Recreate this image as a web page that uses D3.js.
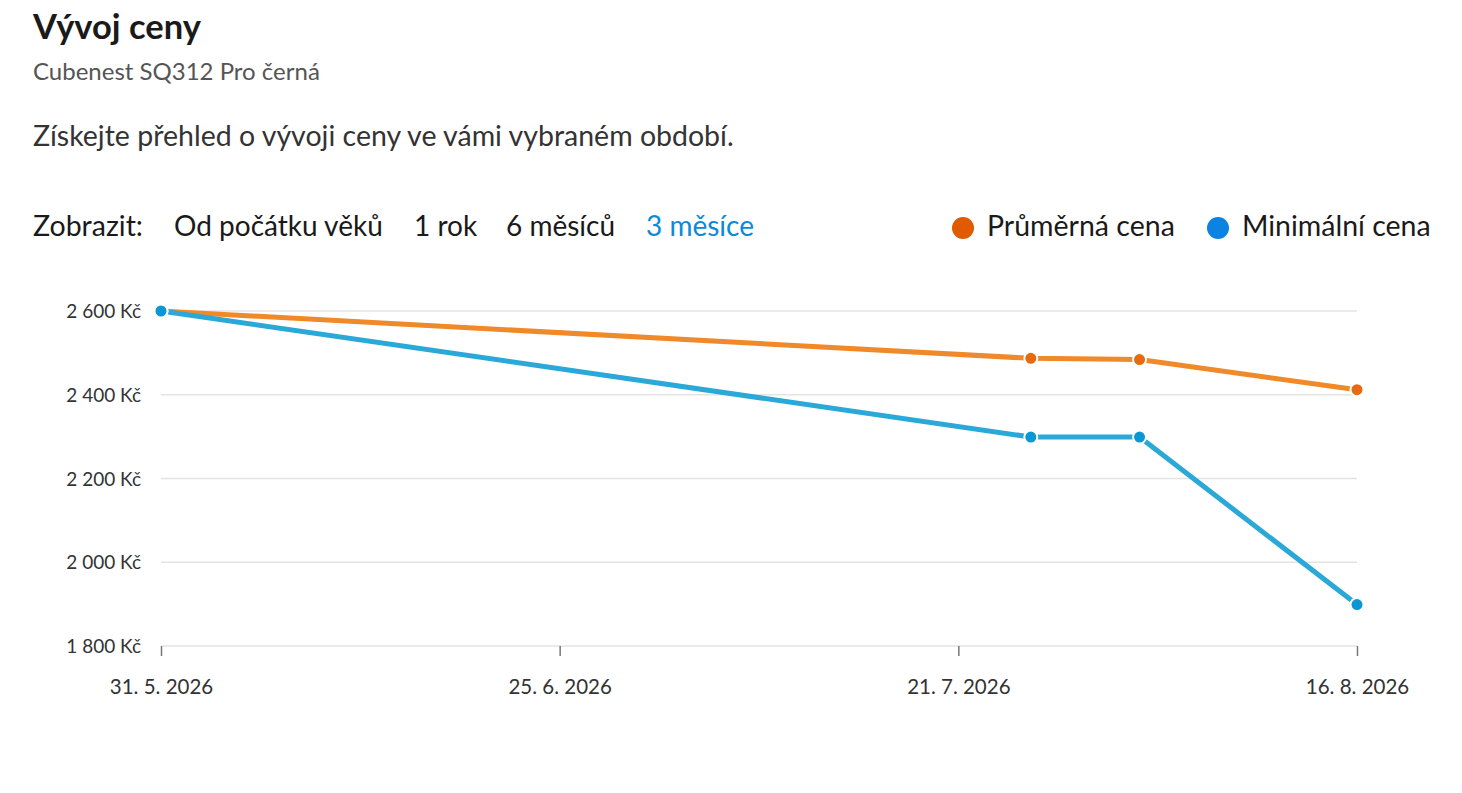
<!DOCTYPE html>
<html lang="cs">
<head>
<meta charset="utf-8">
<script src="https://cdn.jsdelivr.net/npm/d3@7"></script>
<style>
    body { margin: 0; background: #fff; font-family: Lato, "Noto Sans", sans-serif; }
    svg text { font-family: Lato, "Noto Sans", sans-serif; }
</style>
</head>
<body>
<div id="chart"></div>
<script>
// data
const dates = ["2026-05-31", "2026-07-26", "2026-08-02", "2026-08-16"];
const avgPrice = [2600, 2487, 2484, 2412];
const minPrice = [2600, 2299, 2299, 1899];
const yTicks = [1800, 2000, 2200, 2400, 2600];
const periods = ["Od počátku věků", "1 rok", "6 měsíců", "3 měsíce"];
const seriesNames = ["Průměrná cena", "Minimální cena"];

const W = 1462, H = 793;
const margin = {top: 311, right: 105, bottom: 147, left: 161};

const svg = d3.select("#chart").append("svg")
    .attr("width", W)
    .attr("height", H);

// header texts
svg.append("text").attr("x", 33).attr("y", 39)
    .style("font-size", "34.5px").style("font-weight", "bold").attr("fill", "#1a1a1a")
    .text("Vývoj ceny");
svg.append("text").attr("x", 33).attr("y", 80)
    .style("font-size", "24px").attr("fill", "#555")
    .text("Cubenest SQ312 Pro černá");
svg.append("text").attr("x", 33).attr("y", 146)
    .style("font-size", "28.5px").attr("fill", "#333")
    .text("Získejte přehled o vývoji ceny ve vámi vybraném období.");

// period switcher
svg.append("text").attr("x", 33).attr("y", 236)
    .style("font-size", "28.5px").attr("fill", "#1a1a1a")
    .text("Zobrazit:");
const periodX = [174, 414, 506, 646];
svg.selectAll("text.period")
    .data(periods)
    .join("text")
    .classed("period", true)
    .attr("x", (d, i) => periodX[i])
    .attr("y", 236)
    .style("font-size", "28px")
    .attr("fill", (d, i) => i === periods.length - 1 ? "#0a8ad8" : "#1a1a1a")
    .text(d => d);

// legend
const legendColors = ["#e05a00", "#0a84e0"];
const legendX = [963, 1218];
const legend = svg.selectAll("g.legend")
    .data(seriesNames)
    .join("g")
    .classed("legend", true)
    .attr("transform", (d, i) => `translate(${legendX[i]},228)`);
legend.append("circle").attr("r", 11).attr("fill", (d, i) => legendColors[i]);
legend.append("text").attr("x", 24).attr("y", 8)
    .style("font-size", "28.5px").attr("fill", "#1a1a1a")
    .text(d => d);

// scales
const parse = d3.utcParse("%Y-%m-%d");
const xDates = dates.map(parse);
const x = d3.scaleUtc()
    .domain(d3.extent(xDates))
    .range([margin.left, W - margin.right]);
const y = d3.scaleLinear()
    .domain([1800, 2600])
    .range([H - margin.bottom, margin.top]);

// gridlines
svg.append("g")
    .selectAll("line")
    .data(yTicks)
    .join("line")
    .attr("x1", x.range()[0]).attr("x2", x.range()[1])
    .attr("y1", d => y(d)).attr("y2", d => y(d))
    .attr("stroke", "#e3e3e3").attr("stroke-width", 1.5);

// y axis labels
const kc = d => d3.formatLocale({decimal: ",", thousands: "\u00a0", grouping: [3], currency: ["", " Kč"]}).format(",")(d) + " Kč";
svg.append("g")
    .selectAll("text")
    .data(yTicks)
    .join("text")
    .attr("x", 141)
    .attr("y", d => y(d) + 7)
    .attr("text-anchor", "end")
    .style("font-size", "19px")
    .attr("fill", "#333")
    .text(kc);

// x axis: 4 evenly spaced ticks across the range
const xTickValues = d3.range(4).map(i => x.invert(x.range()[0] + i * (x.range()[1] - x.range()[0]) / 3));
const fmtDate = d => `${d.getUTCDate()}. ${d.getUTCMonth() + 1}. ${d.getUTCFullYear()}`;
const axisX = svg.append("g")
    .attr("transform", `translate(0,${y(1800)})`)
    .call(d3.axisBottom(x).tickValues(xTickValues).tickFormat(fmtDate).tickSize(10).tickPadding(23));
axisX.select(".domain").remove();
axisX.selectAll(".tick line").attr("stroke", "#777").attr("stroke-width", 1.5);
axisX.selectAll(".tick text")
    .style("font-size", "20.5px")
    .attr("fill", "#333");

// lines
const series = [
    {values: avgPrice, line: "#f0892a", dot: "#e86a0c"},
    {values: minPrice, line: "#2aa8d8", dot: "#0b96d4"}
];
const lineGen = d3.line()
    .x((d, i) => x(xDates[i]))
    .y(d => y(d));

series.forEach(s => {
    svg.append("path")
        .datum(s.values)
        .attr("fill", "none")
        .attr("stroke", s.line)
        .attr("stroke-width", 5)
        .attr("stroke-linejoin", "round")
        .attr("d", lineGen);
});
series.forEach(s => {
    svg.append("g")
        .selectAll("circle")
        .data(s.values)
        .join("circle")
        .attr("cx", (d, i) => x(xDates[i]))
        .attr("cy", d => y(d))
        .attr("r", 6.5)
        .attr("fill", s.dot)
        .attr("stroke", "#fff")
        .attr("stroke-width", 2);
});
</script>
</body>
</html>
